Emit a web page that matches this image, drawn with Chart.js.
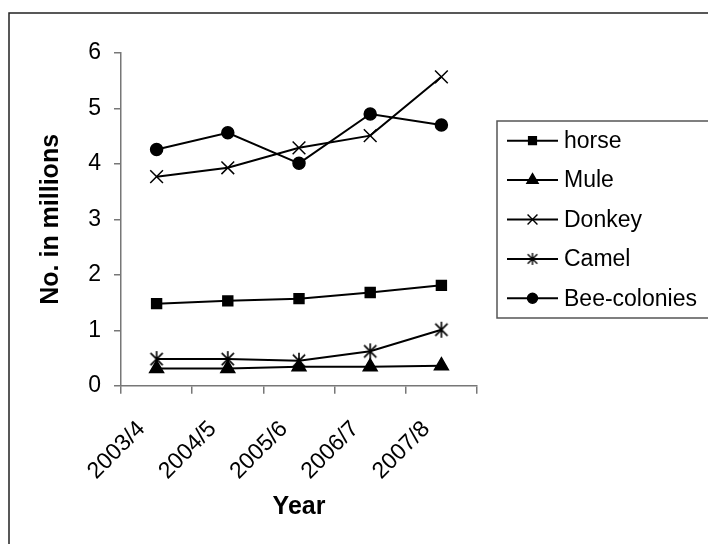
<!DOCTYPE html>
<html>
<head>
<meta charset="utf-8">
<title>Livestock numbers</title>
<script src="https://cdn.jsdelivr.net/npm/chart.js@4/dist/chart.umd.min.js"></script>
<style>
  html, body { margin: 0; padding: 0; background: #fff; }
  #wrap { width: 708px; height: 544px; }
</style>
</head>
<body>
<div id="wrap"><canvas id="livestockChart" width="708" height="544"></canvas></div>
<script>
// data (millions)
var years = ['2003/4', '2004/5', '2005/6', '2006/7', '2007/8'];
var horse = [1.48, 1.53, 1.57, 1.68, 1.81];
var mule = [0.31, 0.31, 0.34, 0.34, 0.36];
var donkey = [3.77, 3.93, 4.29, 4.51, 5.57];
var camel = [0.48, 0.48, 0.45, 0.62, 1.01];
var beeColonies = [4.26, 4.56, 4.01, 4.90, 4.70];
var yTicks = [0, 1, 2, 3, 4, 5, 6];

var fontFamily = "'Liberation Sans', Arial, sans-serif";

// asterisk marker (X plus a vertical bar) like the camel symbol
function makeAsterisk(size, lw) {
    var c = document.createElement('canvas');
    c.width = size; c.height = size;
    var g = c.getContext('2d');
    var m = size / 2, d = size * 0.34;
    g.strokeStyle = '#000';
    g.lineWidth = lw;
    g.beginPath();
    g.moveTo(m, 1); g.lineTo(m, size - 1);
    g.moveTo(m - d, m - d); g.lineTo(m + d, m + d);
    g.moveTo(m + d, m - d); g.lineTo(m - d, m + d);
    g.stroke();
    return c;
}
var camelMark = makeAsterisk(18, 1.6);
var camelMarkSmall = makeAsterisk(14, 1.4);

function series(label, values, style, radius, legendStyle, legendRadius) {
    return {
        label: label,
        data: values,
        borderColor: '#000',
        backgroundColor: '#000',
        borderWidth: 2,
        pointStyle: style,
        pointRadius: radius,
        pointHoverRadius: radius,
        pointBackgroundColor: '#000',
        pointBorderColor: '#000',
        pointBorderWidth: 1.5,
        legendStyle: legendStyle,
        legendRadius: legendRadius,
        tension: 0
    };
}

// white page with the frame line on top and left
var framePlugin = {
    id: 'frame',
    beforeDraw: function(chart) {
        var ctx = chart.ctx;
        ctx.save();
        ctx.fillStyle = '#fff';
        ctx.fillRect(0, 0, chart.width, chart.height);
        ctx.strokeStyle = '#222';
        ctx.lineWidth = 1.5;
        ctx.beginPath();
        ctx.moveTo(9, chart.height);
        ctx.lineTo(9, 13);
        ctx.lineTo(chart.width, 13);
        ctx.stroke();
        ctx.restore();
    }
};

// boxed legend: line sample with marker, then the label
var legendPlugin = {
    id: 'boxLegend',
    afterDraw: function(chart) {
        var ctx = chart.ctx;
        var left = 497, top = 121, bottom = 318;
        var sets = chart.data.datasets;
        var rowH = (bottom - top) / sets.length;
        ctx.save();
        ctx.strokeStyle = '#555';
        ctx.lineWidth = 1.5;
        ctx.strokeRect(left, top, 240, bottom - top);
        ctx.font = '23px ' + fontFamily;
        ctx.textBaseline = 'middle';
        ctx.textAlign = 'left';
        sets.forEach(function(ds, i) {
            var y = top + rowH * (i + 0.5);
            ctx.strokeStyle = '#000';
            ctx.lineWidth = 2;
            ctx.beginPath();
            ctx.moveTo(507, y);
            ctx.lineTo(558, y);
            ctx.stroke();
            ctx.fillStyle = '#000';
            ctx.lineWidth = 1.4;
            Chart.helpers.drawPoint(ctx, {
                pointStyle: ds.legendStyle,
                radius: ds.legendRadius,
                rotation: 0,
                borderWidth: 1.4
            }, 532.5, y);
            ctx.fillStyle = '#000';
            ctx.fillText(ds.label, 564, y + 1);
        });
        ctx.restore();
    }
};

var ctx = document.getElementById('livestockChart').getContext('2d');
new Chart(ctx, {
    type: 'line',
    data: {
        labels: years,
        datasets: [
            series('horse', horse, 'rect', 7, 'rect', 5.5),
            series('Mule', mule, 'triangle', 8, 'triangle', 6.5),
            series('Donkey', donkey, 'crossRot', 9, 'crossRot', 7),
            series('Camel', camel, camelMark, 9, camelMarkSmall, 7),
            series('Bee-colonies', beeColonies, 'circle', 6, 'circle', 5)
        ]
    },
    options: {
        responsive: false,
        animation: false,
        events: [],
        layout: { padding: { left: 20, top: 53, right: 231, bottom: 20 } },
        plugins: {
            legend: { display: false },
            tooltip: { enabled: false }
        },
        scales: {
            x: {
                offset: true,
                grid: {
                    offset: true,
                    drawOnChartArea: false,
                    drawTicks: true,
                    tickLength: 8,
                    color: '#777',
                    lineWidth: 1.5
                },
                border: { color: '#777', width: 1.5 },
                ticks: {
                    color: '#000',
                    font: { family: fontFamily, size: 23 },
                    minRotation: 45,
                    maxRotation: 45,
                    autoSkip: false,
                    labelOffset: -15,
                    padding: 22
                },
                title: {
                    display: true,
                    text: 'Year',
                    color: '#000',
                    font: { family: fontFamily, size: 25, weight: 'bold' },
                    padding: { top: 0, bottom: 2 }
                },
                afterFit: function(scale) { scale.height = 138.3; }
            },
            y: {
                min: 0,
                max: 6,
                afterBuildTicks: function(scale) {
                    scale.ticks = yTicks.map(function(v) { return { value: v }; });
                },
                grid: {
                    drawOnChartArea: false,
                    drawTicks: true,
                    tickLength: 7,
                    color: '#777',
                    lineWidth: 1.5
                },
                border: { color: '#777', width: 1.5 },
                ticks: {
                    color: '#000',
                    font: { family: fontFamily, size: 23 },
                    padding: 13
                },
                title: {
                    display: true,
                    text: 'No. in millions',
                    color: '#000',
                    font: { family: fontFamily, size: 25, weight: 'bold' },
                    padding: { top: 16, bottom: 0 }
                },
                afterFit: function(scale) { scale.width = 101; }
            }
        }
    },
    plugins: [framePlugin, legendPlugin]
});
</script>
</body>
</html>
